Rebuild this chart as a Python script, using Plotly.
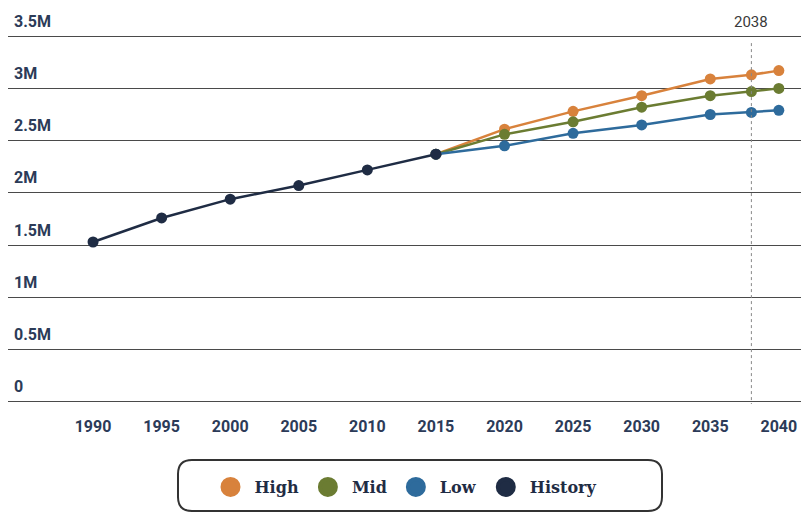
import plotly.graph_objects as go

hist_years = [1990, 1995, 2000, 2005, 2010, 2015]
hist_vals = [1.53e6, 1.76e6, 1.94e6, 2.07e6, 2.22e6, 2.37e6]

proj_years = [2015, 2020, 2025, 2030, 2035, 2038, 2040]
high_vals = [2.37e6, 2.61e6, 2.78e6, 2.93e6, 3.09e6, 3.13e6, 3.17e6]
mid_vals = [2.37e6, 2.56e6, 2.68e6, 2.82e6, 2.93e6, 2.97e6, 3.00e6]
low_vals = [2.37e6, 2.45e6, 2.57e6, 2.65e6, 2.75e6, 2.77e6, 2.79e6]

y_ticks = [0, 0.5e6, 1e6, 1.5e6, 2e6, 2.5e6, 3e6, 3.5e6]
y_tick_labels = ["0", "0.5M", "1M", "1.5M", "2M", "2.5M", "3M", "3.5M"]
x_ticks = [1990, 1995, 2000, 2005, 2010, 2015, 2020, 2025, 2030, 2035, 2040]
marker_year = 2038

colors = {"High": "#d8823c", "Mid": "#6b7c32", "Low": "#2e6b9c", "History": "#1f2c44"}
series = [("High", proj_years, high_vals), ("Mid", proj_years, mid_vals),
          ("Low", proj_years, low_vals), ("History", hist_years, hist_vals)]

# page has an 8px body margin; figure occupies page x 8..809, y 8..514
OFF = 8
W, H = 809 - OFF, 514 - OFF
L, R, T, B = 0, 0, 2, 110

fig = go.Figure()
for name, xs, ys in series:
    fig.add_trace(go.Scatter(x=xs, y=ys, mode="lines+markers", name=name,
                             line=dict(color=colors[name], width=2.5),
                             marker=dict(color=colors[name], size=11),
                             showlegend=False, hoverinfo="x+y"))
for name, xs, ys in series:
    fig.add_trace(go.Scatter(x=[None], y=[None], mode="markers", name=name,
                             marker=dict(color=colors[name], size=16,
                                         line=dict(color=colors[name], width=4)),
                             showlegend=True))

pw, ph = W - L - R, H - T - B
def px2paper(px, py):
    # page coordinates -> paper coordinates
    return (px - OFF - L) / pw, (H - B - (py - OFF)) / ph

def P(px, py):
    a, b = px2paper(px, py)
    return f"{a:.5f},{b:.5f}"

# rounded legend frame
x0, y0, x1, y1, r = 178, 460, 662, 511, 14
path = (f"M {P(x0 + r, y0)} L {P(x1 - r, y0)} Q {P(x1, y0)} {P(x1, y0 + r)} "
        f"L {P(x1, y1 - r)} Q {P(x1, y1)} {P(x1 - r, y1)} L {P(x0 + r, y1)} "
        f"Q {P(x0, y1)} {P(x0, y1 - r)} L {P(x0, y0 + r)} Q {P(x0, y0)} {P(x0 + r, y0)} Z")
fig.add_shape(type="path", path=path, xref="paper", yref="paper",
              line=dict(color="#333333", width=2))

fig.add_shape(type="line", x0=marker_year, x1=marker_year, xref="x", yref="y",
              y0=-0.04e6, y1=3.45e6, line=dict(color="#888888", width=1, dash="dot"))
fig.add_annotation(x=marker_year, y=3.5e6, xref="x", yref="y", text=str(marker_year),
                   showarrow=False, yanchor="bottom", yshift=3,
                   font=dict(family="Roboto", size=15, color="#3a3a3a"))

lx, ly = px2paper(404, 487)
fig.update_layout(
    width=W, height=H,
    margin=dict(l=L, r=R, t=T, b=B),
    paper_bgcolor="white", plot_bgcolor="white",
    xaxis=dict(range=[1983.8, 2042.2], tickvals=x_ticks, showgrid=False, zeroline=False,
               showline=False, ticks="", ticklabelstandoff=11,
               tickfont=dict(family="Roboto", size=16, color="#2c3b58", weight="bold")),
    yaxis=dict(range=[-0.02e6, 3.75e6], tickvals=y_ticks, ticktext=y_tick_labels,
               showgrid=True, gridcolor="#4a4a4a", gridwidth=1, zeroline=False,
               ticks="", ticklabelposition="inside top", ticklabelstandoff=3,
               ticklabelshift=-4,
               tickfont=dict(family="Roboto", size=16, color="#2c3b58", weight="bold")),
    legend=dict(orientation="h", x=lx, y=ly, xanchor="center", yanchor="middle",
                bgcolor="rgba(0,0,0,0)", itemwidth=38,
                font=dict(family="DejaVu Serif", size=16, color="#1f2c44", weight="bold")),
    showlegend=True,
)
fig.write_html("out.html")
